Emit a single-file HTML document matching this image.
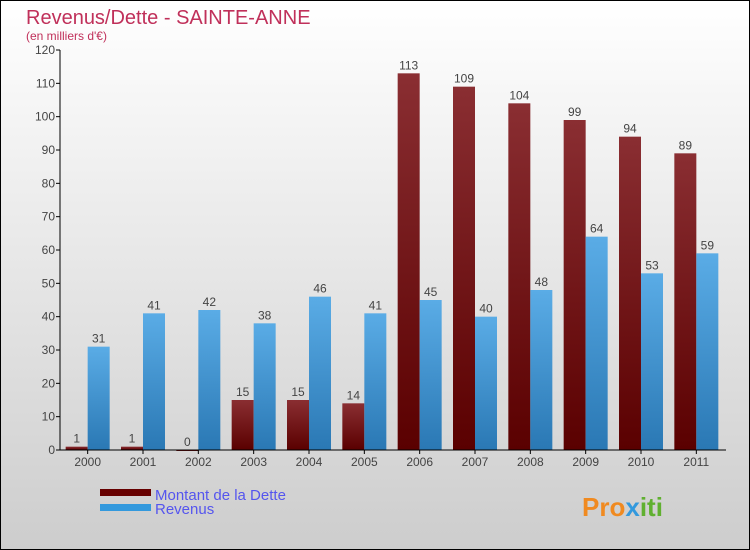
<!DOCTYPE html>
<html><head><meta charset="utf-8"><style>
body{margin:0}
#c{width:750px;height:550px;position:relative;overflow:hidden;font-family:"Liberation Sans",sans-serif}
</style></head><body>
<div id="c">
<svg width="750" height="550" xmlns="http://www.w3.org/2000/svg">
<defs>
<linearGradient id="bg" x1="0" y1="0" x2="0" y2="1"><stop offset="0" stop-color="#ffffff"/><stop offset="1" stop-color="#cdcdcd"/></linearGradient>
<linearGradient id="gd" x1="0" y1="0" x2="0" y2="1"><stop offset="0" stop-color="#8a2e32"/><stop offset="1" stop-color="#5a0000"/></linearGradient>
<linearGradient id="gr" x1="0" y1="0" x2="0" y2="1"><stop offset="0" stop-color="#5aace6"/><stop offset="1" stop-color="#2a78b4"/></linearGradient>
</defs>
<rect x="0.5" y="0.5" width="749" height="549" fill="url(#bg)" stroke="#000"/>
<text x="26" y="24" font-size="20" fill="#c0305a">Revenus/Dette - SAINTE-ANNE</text>
<text x="26" y="40" font-size="12" fill="#c0305a">(en milliers d'€)</text>
<g id="plot"></g>
<g>
<rect x="100" y="489" width="51" height="7" fill="#660000"/>
<rect x="100" y="504" width="51" height="7" fill="#3399dd"/>
<text x="155" y="500" font-size="15" fill="#5555ee">Montant de la Dette</text>
<text x="155" y="514" font-size="15" fill="#5555ee">Revenus</text>
</g>
<text x="582" y="516" font-size="26" font-weight="bold" fill="#f08a20">Pro<tspan fill="#3399dd">x</tspan><tspan fill="#60b030">iti</tspan></text>
</svg>
</div>
<script>
const categories=["2000","2001","2002","2003","2004","2005","2006","2007","2008","2009","2010","2011"];
const dette=[1,1,0,15,15,14,113,109,104,99,94,89];
const revenus=[31,41,42,38,46,41,45,40,48,64,53,59];
const yTicks=[0,10,20,30,40,50,60,70,80,90,100,110,120];
const NS="http://www.w3.org/2000/svg";
const g=document.getElementById('plot');
const x0=60,x1=724,yb=450,yt=50,ymax=120;
const band=(x1-x0)/categories.length;
const y=v=>yb-v/ymax*(yb-yt);
const cx=i=>x0+band/2+band*i;
function mk(t,a){const e=document.createElementNS(NS,t);for(const k in a)e.setAttribute(k,a[k]);g.appendChild(e);return e;}
yTicks.forEach(t=>{
 const l=mk('line',{x1:x0-4,x2:x0,y1:y(t),y2:y(t),stroke:'#000'});
 
 
 const tx=mk('text',{x:x0-5,y:y(t)+4,'font-size':12,'text-anchor':'end',fill:'#444'});
 tx.textContent=t;
 
 
});
const bw=22;
categories.forEach((c,i)=>{
 const c0=cx(i);
 const d=mk('rect',{x:c0-bw,y:y(dette[i]),width:bw,height:Math.max(1,yb-y(dette[i])),fill:'url(#gd)'});
 
 
 const r=mk('rect',{x:c0,y:y(revenus[i]),width:bw,height:yb-y(revenus[i]),fill:'url(#gr)'});
 
 
 const t1=mk('text',{x:c0-bw/2,y:y(dette[i])-4,'font-size':12,'text-anchor':'middle',fill:'#444'});
 t1.textContent=dette[i];
 
 
 const t2=mk('text',{x:c0+bw/2,y:y(revenus[i])-4,'font-size':12,'text-anchor':'middle',fill:'#444'});
 t2.textContent=revenus[i];
 
 
 const tk=mk('line',{x1:c0,x2:c0,y1:yb,y2:yb+4,stroke:'#000'});
 
 
 const xl=mk('text',{x:c0,y:yb+16,'font-size':12,'text-anchor':'middle',fill:'#444'});
 xl.textContent=c;
 
 
});
const ya=mk('line',{x1:x0,x2:x0,y1:yt,y2:yb,stroke:'#000'});


const xa=mk('line',{x1:x0,x2:x1+2,y1:yb,y2:yb,stroke:'#000'});


</script>
</body></html>
